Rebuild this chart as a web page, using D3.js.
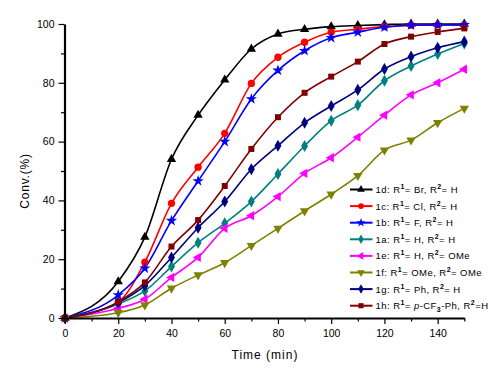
<!DOCTYPE html>
<html><head><meta charset="utf-8">
<script src="https://cdn.jsdelivr.net/npm/d3@7/dist/d3.min.js"></script>
<style>body{margin:0;background:#fff}svg{display:block}text{font-family:"Liberation Sans",Arial,sans-serif}</style>
</head><body>
<svg id="c" width="500" height="370"></svg>
<script>
const time = [0,20,30,40,50,60,70,80,90,100,110,120,130,140,150];
const d1d = [0,12.4,27.5,54,69,81,91.5,96.6,98.2,99.1,99.5,99.8,100,100,100];
const d1c = [0,5.5,19,39,51.3,62.8,79.8,88.7,93.8,97.2,98.2,99.1,99.6,99.7,99.7];
const d1b = [0,7.8,16.9,33.1,46.6,60,74.5,84.2,90.9,95.3,97.2,98.9,99.6,99.7,99.7];
const d1a = [0,4.8,9.2,17.5,25.6,32.2,39.6,49,58.5,67.1,72.4,80.7,85.7,89.8,93.4];
const d1e = [0,3.3,6.4,13.8,20.6,30.5,34.8,41.3,49.2,54.5,61.5,69,75.9,80,84.6];
const d1f = [0,1.8,4.4,10.1,14.6,18.8,24.6,30.5,36.4,42.1,48.4,57.1,60.5,66.4,71.3];
const d1g = [0,5.2,11,20.6,30.7,39.6,50.6,58.6,66.4,72.1,77.6,84.7,88.9,91.9,94];
const d1h = [0,5.5,12.1,24.3,33.3,44.9,57.5,68.3,76.6,82.1,87.2,93.2,95.7,97.3,98.5];
const xTicks = [0,20,40,60,80,100,120,140];
const yTicks = [0,20,40,60,80,100];

const series = [
  {id:"1d", r1:"Br", r2:"H", v:d1d, color:"#000000", sym:d3.symbolTriangle, rot:0},
  {id:"1c", r1:"Cl", r2:"H", v:d1c, color:"#FF0000", sym:d3.symbolCircle, rot:0},
  {id:"1b", r1:"F", r2:"H", v:d1b, color:"#0000FF", sym:d3.symbolStar, rot:0},
  {id:"1a", r1:"H", r2:"H", v:d1a, color:"#008080", sym:d3.symbolDiamond, rot:0},
  {id:"1e", r1:"H", r2:"OMe", v:d1e, color:"#FF00FF", sym:d3.symbolTriangle, rot:-90},
  {id:"1f", r1:"OMe", r2:"OMe", v:d1f, color:"#808000", sym:d3.symbolTriangle, rot:180},
  {id:"1g", r1:"Ph", r2:"H", v:d1g, color:"#000080", sym:d3.symbolDiamond, rot:0},
  {id:"1h", r1:"CF3", r2:"H", v:d1h, color:"#800000", sym:d3.symbolSquare, rot:0}
];

const svg = d3.select("#c");
const x = d3.scaleLinear().domain([0,150]).range([65,464.3]);
const y = d3.scaleLinear().domain([0,100]).range([318,24]);

const line = d3.line().x((d,i)=>x(time[i])).y(d=>y(d)).curve(d3.curveMonotoneX);

const plot = svg.append("g");
series.forEach(s=>{
  plot.append("path").attr("d", line(s.v)).attr("fill","none")
    .attr("stroke", s.color).attr("stroke-width",1.6);
});
series.forEach(s=>{
  const sz = s.sym===d3.symbolStar ? 40 : (s.sym===d3.symbolTriangle ? 38 : (s.sym===d3.symbolSquare ? 36 : 42));
  const p = d3.symbol().type(s.sym).size(sz)();
  plot.selectAll(null).data(s.v).enter().append("path")
    .attr("d", p).attr("fill", s.color)
    .attr("transform",(d,i)=>`translate(${x(time[i])},${y(d)}) rotate(${s.rot})`);
});

// axes
const xa = svg.append("g").attr("transform","translate(0,318)");
xa.call(d3.axisBottom(x).tickValues(xTicks).tickSize(6).tickSizeOuter(0).tickPadding(6));
const xm = svg.append("g").attr("transform","translate(0,318)");
xm.call(d3.axisBottom(x).tickValues([10,30,50,70,90,110,130,150]).tickSize(3.5).tickSizeOuter(0).tickFormat(""));
const ya = svg.append("g").attr("transform","translate(64.5,0)");
ya.call(d3.axisLeft(y).tickValues(yTicks).tickSize(6).tickSizeOuter(0).tickPadding(4));
const ym = svg.append("g").attr("transform","translate(64.5,0)");
ym.call(d3.axisLeft(y).tickValues([10,30,50,70,90]).tickSize(3.5).tickSizeOuter(0).tickFormat(""));
[xa,xm,ya,ym].forEach(g=>{
  g.select(".domain").attr("stroke","#000").attr("stroke-width",2.2);
  g.selectAll(".tick line").attr("stroke","#000").attr("stroke-width",1.2);
  g.selectAll(".tick text").attr("font-size",10.5).attr("fill","#000");
});
xm.select(".domain").remove(); ym.select(".domain").remove();

svg.append("text").attr("x",265).attr("y",359).attr("text-anchor","middle")
  .attr("font-size",12).attr("letter-spacing",1).text("Time (min)");
svg.append("text").attr("transform","translate(29,181) rotate(-90)").attr("text-anchor","middle")
  .attr("font-size",12).attr("letter-spacing",0.8).text("Conv.(%)");

// legend
const lg = svg.append("g");
series.forEach((s,i)=>{
  const yy = 189.5 + i*16.6;
  lg.append("line").attr("x1",350).attr("x2",372.5).attr("y1",yy).attr("y2",yy)
    .attr("stroke",s.color).attr("stroke-width",2);
  lg.append("path").attr("d", d3.symbol().type(s.sym).size(26)())
    .attr("fill",s.color).attr("transform",`translate(361,${yy}) rotate(${s.rot})`);
  const t = lg.append("text").attr("x",375.5).attr("y",yy+3.5).attr("font-size",9.5)
    .attr("letter-spacing",0.45).attr("fill","#000");
  t.append("tspan").text(s.id+": R");
  t.append("tspan").attr("font-size",7).attr("dy",-4).attr("font-weight","bold").text("1");
  if (s.r1==="CF3") {
    t.append("tspan").attr("dy",4).text("= ");
    t.append("tspan").attr("font-style","italic").text("p");
    t.append("tspan").text("-CF");
    t.append("tspan").attr("font-size",7).attr("dy",3).attr("font-weight","bold").text("3");
    t.append("tspan").attr("dy",-3).text("-Ph, R");
  } else {
    t.append("tspan").attr("dy",4).text("= "+s.r1+", R");
  }
  t.append("tspan").attr("font-size",7).attr("dy",-4).attr("font-weight","bold").text("2");
  t.append("tspan").attr("dy",4).text(s.r1==="CF3" ? "=H" : "= "+s.r2);
});
</script>
</body></html>
